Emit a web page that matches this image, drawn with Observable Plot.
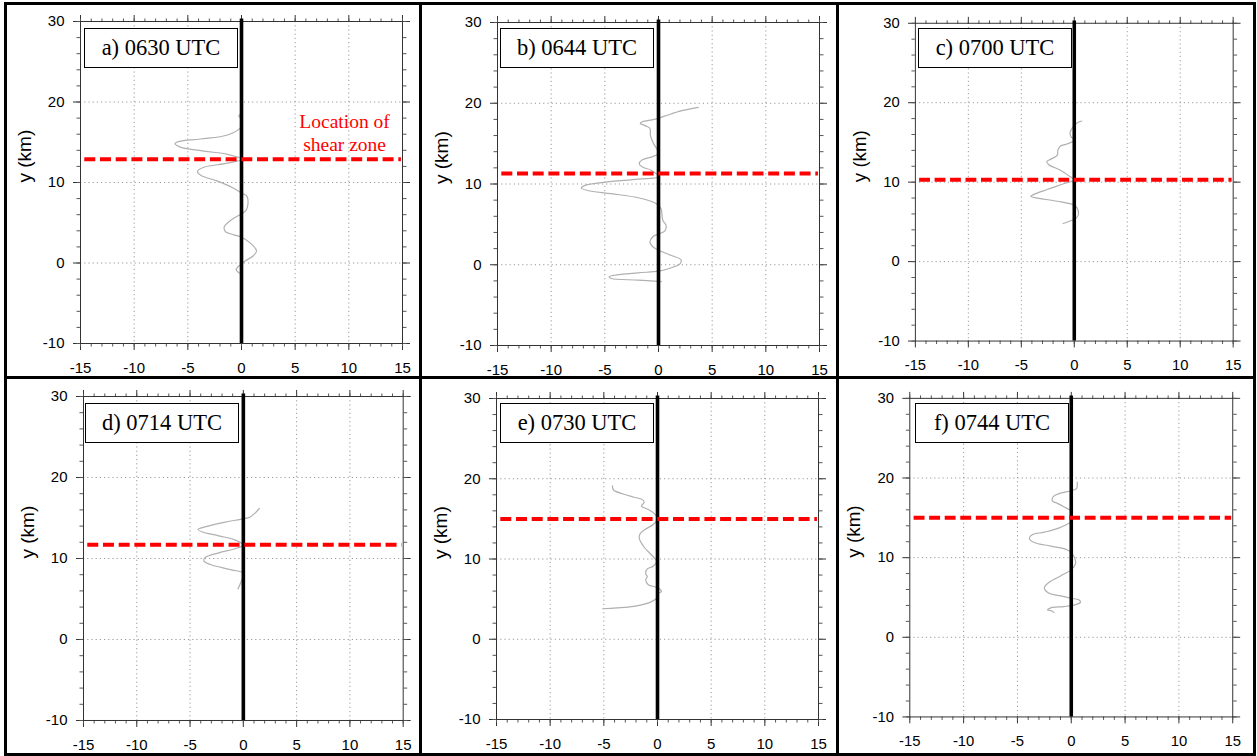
<!DOCTYPE html>
<html><head><meta charset="utf-8">
<script src="https://cdn.jsdelivr.net/npm/d3@7"></script>
<script src="https://cdn.jsdelivr.net/npm/@observablehq/plot@0.6"></script>
<style>
body{margin:0;background:#fff;}
#wrap{position:relative;width:1257px;height:756px;overflow:hidden;background:#fff;}
.panel{position:absolute;}
.lbl{position:absolute;border:1.8px solid #000;box-sizing:border-box;background:#fff;font-family:"Liberation Serif",serif;font-size:22.5px;display:flex;align-items:center;justify-content:center;color:#000;white-space:nowrap;}
.bar{position:absolute;background:#000;}
.outer{position:absolute;border:3px solid #000;box-sizing:border-box;}
</style></head><body><div id="wrap"></div>
<script>
// ---------------- data ----------------
const panelLabels = ["a) 0630 UTC", "b) 0644 UTC", "c) 0700 UTC", "d) 0714 UTC", "e) 0730 UTC", "f) 0744 UTC"];
const shearZoneY = [12.9, 11.3, 10.3, 11.7, 15.0, 15.0];
const xDomain = [-15, 15];
const yDomain = [-10, 30];
const xMajorTicks = [-15, -10, -5, 0, 5, 10, 15];
const xMinorTicks = d3.range(-15, 16, 1);
const yMajorTicks = [-10, 0, 10, 20, 30];
const yMinorTicks = d3.range(-10, 31, 2);
const xGridTicks = [-10, -5, 0, 5, 10];
const yGridTicks = [0, 10, 20];
const shearExtent = [-14.6, 14.9];
const zeroLineTop = 30.3;
const yAxisLabel = "y (km)";
const annotations = [{panel: 0, x: 9.6, y: 16.2, text: "Location of\nshear zone"}];

// profiles: [x, y(km)], top to bottom
const profileA = [[0.05,18.6],[-0.25,18.3],[-0.05,17.9],[0,17.4],[-0.1,16.8],[-1.3,15.9],[-3.8,15.4],[-5.8,15.1],[-6.2,14.8],[-5.7,14.4],[-3.5,13.9],[-1.3,13.5],[0,12.9],[-1.3,12.4],[-3.5,11.9],[-4.1,11.4],[-3.8,10.9],[-2.3,10.2],[-0.9,9.4],[0,8.7],[0.5,8.3],[0.6,7.3],[0.4,6.5],[0,6.1],[-0.9,5.4],[-1.6,4.5],[-1.5,3.9],[-0.7,3.5],[0,3.2],[0.8,2.5],[1.4,1.5],[1.1,0.9],[0.4,0.3],[0,-0.1],[-0.5,-0.8],[-0.25,-1.2],[0,-1.4]];
const profileB = [[3.7,19.5],[2.1,19.05],[0.56,18.4],[-0.4,18.0],[-1.5,17.7],[-1.7,17.5],[-1.2,17.2],[-0.8,16.9],[-0.75,16.0],[-0.5,15.1],[0,13.8],[-0.5,13.4],[-1.5,13.0],[-1.8,12.5],[-1.5,12.1],[-0.7,11.7],[0,10.9],[-1.9,10.6],[-5.1,10.2],[-6.9,9.8],[-7.2,9.5],[-6.6,9.2],[-4.4,8.8],[-1.9,8.3],[-0.4,7.7],[0,7.3],[0.25,6.9],[0.4,5.5],[0.7,4.9],[0.6,4.2],[0,3.8],[-0.5,3.5],[-0.8,2.8],[-0.5,2.2],[0,1.8],[1.2,1.15],[2.1,0.6],[2.0,0.1],[0.9,-0.5],[0,-0.8],[-1.9,-1.0],[-4.1,-1.3],[-4.6,-1.5],[-4.4,-1.7],[-1.9,-1.9],[0.25,-2.1]];
const profileC = [[0.7,17.7],[0.25,17.45],[-0.2,16.8],[-0.4,16.2],[-0.3,15.7],[0,15.3],[-0.7,14.8],[-1.3,14.55],[-1.55,14.0],[-1.6,13.4],[-2.2,12.9],[-2.6,12.6],[-2.4,12.2],[-1.3,11.5],[-0.4,10.7],[0,10.3],[-1.0,9.8],[-2.5,9.1],[-3.9,8.4],[-4.1,8.2],[-3.5,8.0],[-1.6,7.6],[0,7.1],[0.25,6.8],[0.4,5.96],[0.2,5.5],[-0.2,5.2],[-1.05,4.8]];
const profileD = [[1.5,16.2],[1.1,15.6],[0.6,15.1],[0,14.9],[-1.7,14.5],[-3.6,13.9],[-4.25,13.6],[-3.9,13.3],[-2.3,12.8],[-0.8,12.3],[0,11.65],[-0.8,11.2],[-2.3,10.7],[-3.6,10.1],[-3.7,9.7],[-3.1,9.26],[-1.1,8.6],[0,8.15],[-0.25,7.0],[-0.5,6.25]];
const profileE = [[-4.2,19.1],[-4.1,18.6],[-3.2,18.1],[-2.2,17.7],[-1.4,17.4],[-1.25,17.05],[-1.5,16.6],[-0.9,16.2],[-0.25,15.6],[0,15.0],[-0.4,14.3],[-1.2,13.65],[-1.6,13.2],[-1.7,12.6],[-1.2,11.4],[-0.55,10.5],[-0.1,9.7],[-0.4,9.1],[-0.95,8.76],[-1.1,8.2],[-0.95,7.8],[-1.1,7.4],[-0.86,6.8],[0.06,6.4],[0.37,5.97],[0.06,5.7],[-0.1,5.1],[-0.7,4.6],[-2.2,4.1],[-3.8,3.9],[-5.1,3.8]];
const profileF = [[0.55,19.5],[0.5,18.7],[0,18.4],[-1.0,18.1],[-1.65,17.7],[-1.75,17.1],[-1.35,16.85],[-0.7,16.4],[0,15.8],[0,14.6],[-1.0,13.8],[-2.5,13.2],[-3.6,12.9],[-3.9,12.4],[-3.45,11.9],[-1.9,11.45],[-0.4,11.0],[0,10.6],[0.3,10.0],[0.4,9.25],[0,8.5],[-1.0,7.7],[-2.06,6.9],[-2.5,6.2],[-2.15,5.6],[-1.0,5.2],[0,4.9],[0.7,4.7],[0.86,4.4],[0.4,4.1],[-0.7,3.86],[-1.9,3.7],[-2.2,3.45],[-1.8,3.3],[-1.6,3.1]];
const profiles = [profileA, profileB, profileC, profileD, profileE, profileF];

// ---------------- layout (pixels) ----------------
const plotBoxes = [[80.3,20.7,322,322],[497,22.3,322,323],[915.7,22.7,322.6,322.6],[83.3,395.7,319.7,324],[496,397.7,322,321],[910,397.7,326,321.6]];
const labelBoxes = [[84,28],[500,28],[918,28],[85,403],[500,403],[915,403]];

const wrap = document.getElementById("wrap");
const fmt = d => String(d);
const blank = () => "";
const sans = "'Liberation Sans', Arial, sans-serif";

profiles.forEach((prof, i) => {
  const [px, py, pw, ph] = plotBoxes[i];
  const mL = 75, mR = 25, mT = 15, mB = 40;
  const ann = annotations.filter(a => a.panel === i);
  const chart = Plot.plot({
    width: pw + mL + mR, height: ph + mT + mB,
    marginLeft: mL, marginRight: mR, marginTop: mT, marginBottom: mB,
    x: {domain: xDomain},
    y: {domain: yDomain},
    style: {background: "transparent", overflow: "visible", fontFamily: sans, fontSize: "15px", color: "#000"},
    marks: [
      Plot.gridX(xGridTicks, {stroke: "#999", strokeOpacity: 1, strokeWidth: 1, strokeDasharray: "1.2,3"}),
      Plot.gridY(yGridTicks, {stroke: "#999", strokeOpacity: 1, strokeWidth: 1, strokeDasharray: "1.2,3"}),
      Plot.axisX(xMajorTicks, {anchor: "bottom", tickSize: 7, tickPadding: 12, tickFormat: fmt, label: null, stroke: "#333", fontSize: 15, fontFamily: sans}),
      Plot.axisX(xMinorTicks, {anchor: "bottom", tickSize: 3.5, tickFormat: blank, label: null, stroke: "#555"}),
      Plot.axisX(xMajorTicks, {anchor: "top", tickSize: 7, tickFormat: blank, label: null, stroke: "#333"}),
      Plot.axisX(xMinorTicks, {anchor: "top", tickSize: 3.5, tickFormat: blank, label: null, stroke: "#555"}),
      Plot.axisY(yMajorTicks, {anchor: "left", tickSize: 7, tickPadding: 9, tickFormat: fmt, label: null, stroke: "#333", fontSize: 15, fontFamily: sans}),
      Plot.axisY(yMinorTicks, {anchor: "left", tickSize: 3.5, tickFormat: blank, label: null, stroke: "#555"}),
      Plot.axisY(yMajorTicks, {anchor: "right", tickSize: 7, tickFormat: blank, label: null, stroke: "#333"}),
      Plot.axisY(yMinorTicks, {anchor: "right", tickSize: 3.5, tickFormat: blank, label: null, stroke: "#555"}),
      Plot.frame({stroke: "#333", strokeWidth: 1}),
      Plot.line(prof, {x: d => d[0], y: d => d[1], stroke: "#b0b0b0", strokeWidth: 1.2, curve: "catmull-rom"}),
      Plot.ruleX([0], {y1: yDomain[0], y2: zeroLineTop, stroke: "#000", strokeWidth: 3.6}),
      Plot.ruleY([shearZoneY[i]], {x1: shearExtent[0], x2: shearExtent[1], stroke: "#ff0000", strokeWidth: 4, strokeDasharray: "11,4.7"}),
      Plot.text([yAxisLabel], {frameAnchor: "left", rotate: -90, dx: -56, fontSize: 19, fontFamily: sans, fill: "#000"}),
      Plot.text(ann, {x: "x", y: "y", text: "text", fill: "#ff0000", fontSize: 19.5, fontFamily: "'Liberation Serif', serif", lineHeight: 1.18, textAnchor: "middle", lineAnchor: "middle"})
    ]
  });
  const div = document.createElement("div");
  div.className = "panel";
  div.style.left = (px - mL) + "px";
  div.style.top = (py - mT) + "px";
  div.appendChild(chart);
  wrap.appendChild(div);

  const lbl = document.createElement("div");
  lbl.className = "lbl";
  lbl.style.left = labelBoxes[i][0] + "px";
  lbl.style.top = labelBoxes[i][1] + "px";
  lbl.style.width = "154px";
  lbl.style.height = "40px";
  lbl.textContent = panelLabels[i];
  wrap.appendChild(lbl);
});

// panel frame lines
const outer = document.createElement("div");
outer.className = "outer";
Object.assign(outer.style, {left: "4px", top: "2px", width: "1252px", height: "754px"});
wrap.appendChild(outer);
[[419, 2, 2.5, 754], [836, 2, 2.5, 754], [4, 376, 1252, 2.5]].forEach(([l, t, w, h]) => {
  const b = document.createElement("div");
  b.className = "bar";
  Object.assign(b.style, {left: l + "px", top: t + "px", width: w + "px", height: h + "px"});
  wrap.appendChild(b);
});
</script></body></html>
